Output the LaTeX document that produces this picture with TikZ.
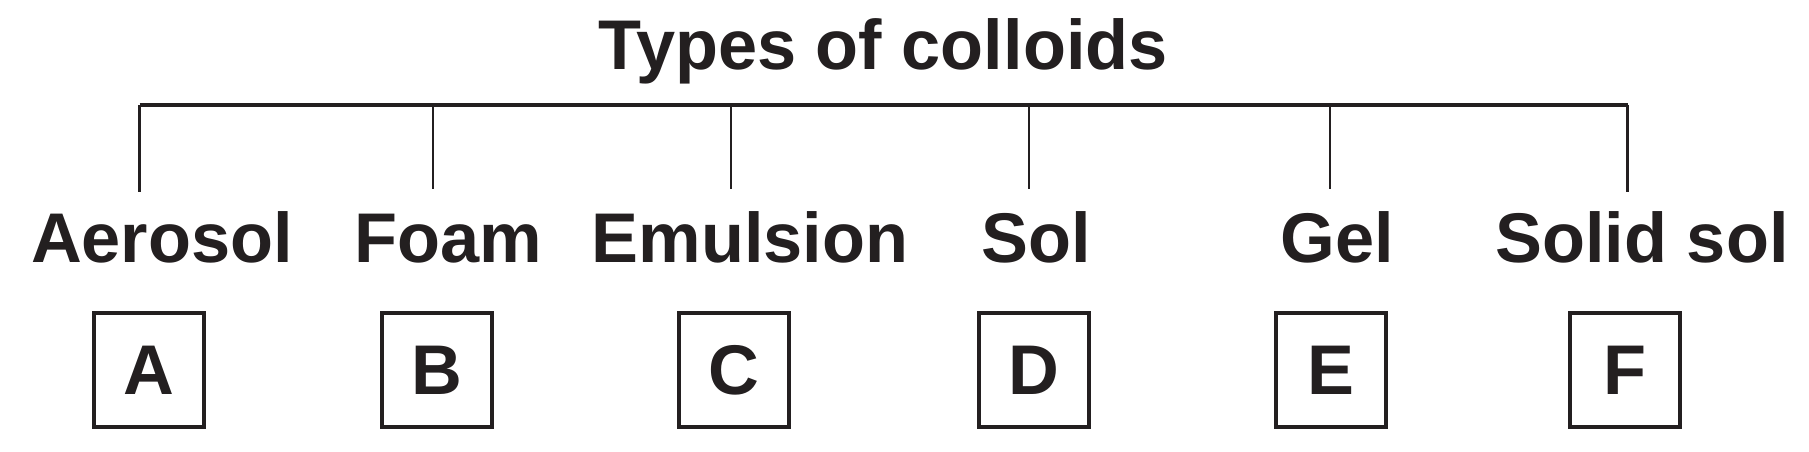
\documentclass[tikz,border=0pt]{standalone}
\usepackage{fontspec}
\setmainfont{Liberation Sans}
\usetikzlibrary{positioning}
\definecolor{inkgrey}{HTML}{231F20}

\begin{document}
\begin{tikzpicture}[x=0.01cm,y=-0.01cm,color=inkgrey,
    typetext/.style={anchor=base,inner sep=0pt,font=\fontsize{20}{24}\selectfont\bfseries},
    letterbox/.style={draw,line width=1pt,minimum width=1.1cm,minimum height=1.14cm,
        inner sep=0pt,font=\fontsize{20}{24}\selectfont\bfseries},
    bar/.style={line width=1pt},
    branch/.style={line width=0.6pt}]

        \useasboundingbox (0,0) rectangle (1809,452);

        %=====================
        % Title
        %=====================
        \node[typetext] (title) at (883,70) {Types of colloids};

        %=====================
        % Bracket
        %=====================
        \coordinate (barL) at (139.5,105);
        \coordinate (barR) at (1627.5,105);
        \draw[bar] (barL) -- (barR);

        \coordinate (topFoam) at (433,105);
        \coordinate (topEmulsion) at (731,105);
        \coordinate (topSol) at (1029,105);
        \coordinate (topGel) at (1330,105);

        \coordinate (endAerosol) at (139.5,192);
        \coordinate (endFoam) at (433,189);
        \coordinate (endEmulsion) at (731,189);
        \coordinate (endSol) at (1029,189);
        \coordinate (endGel) at (1330,189);
        \coordinate (endSolid) at (1627.5,192);

        \draw[branch] (barL) -- (endAerosol);
        \draw[branch] (topFoam) -- (endFoam);
        \draw[branch] (topEmulsion) -- (endEmulsion);
        \draw[branch] (topSol) -- (endSol);
        \draw[branch] (topGel) -- (endGel);
        \draw[branch] (barR) -- (endSolid);

        %=====================
        % Types
        %=====================
        \node[typetext] (aerosol) at (162,263) {Aerosol};
        \node[typetext] (foam) at (448,263) {Foam};
        \node[typetext] (emulsion) at (750,263) {Emulsion};
        \node[typetext] (sol) at (1036,263) {Sol};
        \node[typetext] (gel) at (1337,263) {Gel};
        \node[typetext] (solidsol) at (1642,263) {Solid sol};

        %=====================
        % Answer boxes
        %=====================
        \node[letterbox] (boxA) at (149,370) {A};
        \node[letterbox] (boxB) at (437,370) {B};
        \node[letterbox] (boxC) at (734,370) {C};
        \node[letterbox] (boxD) at (1034,370) {D};
        \node[letterbox] (boxE) at (1331,370) {E};
        \node[letterbox] (boxF) at (1625,370) {F};

    \end{tikzpicture}
\end{document}
